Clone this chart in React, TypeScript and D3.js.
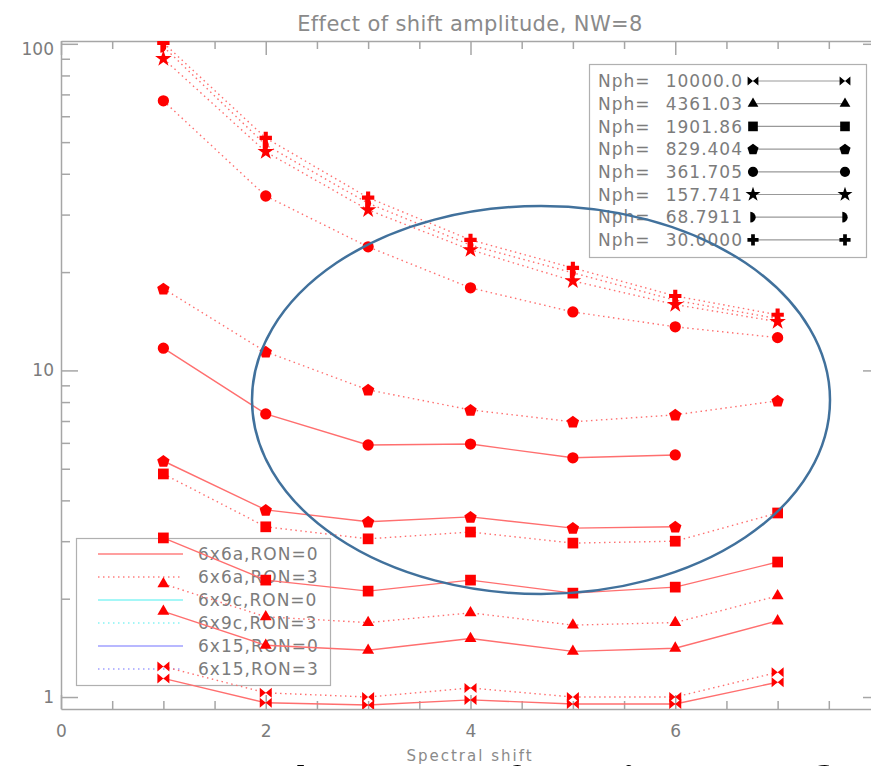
import * as d3 from "d3";
import { useEffect, useRef } from "react";

const W = 871;
const H = 766;

// x positions of the measurements
const shifts = [1, 2, 3, 4, 5, 6, 7];

// 6x6a, RON=0 (solid) and RON=3 (dotted), one pair per photon count
const bowtieRon0 = [1.14, 0.96, 0.945, 0.98, 0.952, 0.952, 1.11];
const bowtieRon3 = [1.24, 1.03, 1.0, 1.066, 1.0, 1.0, 1.19];
const triangleRon0 = [1.83, 1.44, 1.39, 1.51, 1.38, 1.41, 1.71];
const triangleRon3 = [2.22, 1.76, 1.69, 1.81, 1.66, 1.69, 2.04];
const squareRon0 = [3.07, 2.28, 2.11, 2.28, 2.08, 2.17, 2.59];
const squareRon3 = [4.82, 3.32, 3.05, 3.2, 2.96, 3.0, 3.66];
const pentagonRon0 = [5.28, 3.74, 3.44, 3.56, 3.29, 3.32];
const pentagonRon3 = [17.8, 11.4, 8.72, 7.57, 6.96, 7.31, 8.07];
const circleRon0 = [11.7, 7.36, 5.91, 5.95, 5.4, 5.51];
const circleRon3 = [66.9, 34.2, 23.9, 17.9, 15.1, 13.6, 12.6];
const starRon3 = [90, 46.7, 31.0, 23.4, 18.8, 15.9, 14.1];
const halfdiskRon3 = [98, 49, 32.5, 24.2, 19.9, 16.4, 14.4];
const plusRon3 = [100.7, 51.5, 33.8, 25.1, 20.6, 16.9, 14.8];

const nphLabels = ["10000.0", "4361.03", "1901.86", "829.404", "361.705", "157.741", "68.7911", "30.0000"];
const nphMarkers = ["bowtie", "triangle", "square", "pentagon", "circle", "star", "halfdisk", "plus"];

const configLabels = ["6x6a,RON=0", "6x6a,RON=3", "6x9c,RON=0", "6x9c,RON=3", "6x15,RON=0", "6x15,RON=3"];
const configColors = ["#ff7f7f", "#ff7f7f", "#86f4f4", "#86f4f4", "#a0a0ff", "#a0a0ff"];
const configDotted = [false, true, false, true, false, true];

const xMajorTicks = [0, 2, 4, 6, 8];
const xTickLabels = ["0", "2", "4", "6", ""];
const yMajorTicks = [1, 10, 100];

const series = [
  { marker: "bowtie", values: bowtieRon0, dotted: false },
  { marker: "bowtie", values: bowtieRon3, dotted: true },
  { marker: "triangle", values: triangleRon0, dotted: false },
  { marker: "triangle", values: triangleRon3, dotted: true },
  { marker: "square", values: squareRon0, dotted: false },
  { marker: "square", values: squareRon3, dotted: true },
  { marker: "pentagon", values: pentagonRon0, dotted: false },
  { marker: "pentagon", values: pentagonRon3, dotted: true },
  { marker: "circle", values: circleRon0, dotted: false },
  { marker: "circle", values: circleRon3, dotted: true },
  { marker: "star", values: starRon3, dotted: true },
  { marker: "halfdisk", values: halfdiskRon3, dotted: true },
  { marker: "plus", values: plusRon3, dotted: true },
];

function markerPath(name: string) {
  switch (name) {
    case "circle":
      return d3.symbol(d3.symbolCircle, 100)();
    case "square":
      return d3.symbol(d3.symbolSquare, 115)();
    case "triangle":
      return d3.symbol(d3.symbolTriangle, 62)();
    case "star":
      return d3.symbol(d3.symbolStar, 85)();
    case "plus":
      return d3.symbol(d3.symbolCross, 85)();
    case "pentagon": {
      const pts = d3.range(5).map((i) => {
        const a = -Math.PI / 2 + (i * 2 * Math.PI) / 5;
        return [6.5 * Math.cos(a), 6.5 * Math.sin(a) + 0.5];
      });
      return "M" + pts.map((p) => p.join(",")).join("L") + "Z";
    }
    case "halfdisk":
      return "M-3,-6A6,6 0 0,1 -3,6Z";
    case "bowtie":
      return "M-6,-5L0,0L-6,5ZM6,-5L0,0L6,5Z";
    default:
      return "";
  }
}

export default function App() {
  const ref = useRef<SVGSVGElement>(null);

  useEffect(() => {
    const svg = d3.select(ref.current);
    svg.selectAll("*").remove();

    const margin = { top: 41, right: -9, bottom: 57, left: 61 };
    const x = d3.scaleLinear().domain([0, 8]).range([margin.left, W - margin.right]);
    const y = d3.scaleLog().domain([0.919, 102]).range([H - margin.bottom, margin.top]);
    const [x0, x1] = x.range();
    const [y0, y1] = y.range();

    const axisColor = "#a6a6a6";
    const textColor = "#7c7c7c";
    const font = "DejaVu Sans";

    svg.append("rect").attr("width", W).attr("height", H).attr("fill", "#fff");

    // Title
    svg
      .append("text")
      .attr("x", 470)
      .attr("y", 31)
      .attr("text-anchor", "middle")
      .attr("font-family", font)
      .attr("font-size", 21)
      .attr("letter-spacing", 0.4)
      .attr("fill", "#8a8a8a")
      .text("Effect of shift amplitude, NW=8");

    // Axes
    const styleAxis = (g) => {
      g.selectAll("path,line").attr("stroke", axisColor).attr("stroke-width", 1.5);
      g.selectAll("text").attr("font-family", font).attr("font-size", 17).attr("fill", textColor);
    };
    const xMinor = d3.range(0, 8.01, 0.5).filter((d) => d % 2 !== 0);
    const yMinor = [2, 3, 4, 5, 6, 7, 8, 9, 20, 30, 40, 50, 60, 70, 80, 90];

    svg
      .append("g")
      .attr("transform", `translate(0,${y0})`)
      .call(
        d3
          .axisBottom(x)
          .tickValues(xMajorTicks)
          .tickSize(-14)
          .tickSizeOuter(0)
          .tickPadding(16)
          .tickFormat((d, i) => xTickLabels[i])
      )
      .call(styleAxis);
    svg
      .append("g")
      .attr("transform", `translate(0,${y0})`)
      .call(d3.axisBottom(x).tickValues(xMinor).tickSize(-8).tickFormat(() => ""))
      .call((g) => g.select(".domain").remove())
      .call(styleAxis);
    svg
      .append("g")
      .attr("transform", `translate(0,${y1})`)
      .call(d3.axisTop(x).tickValues(xMajorTicks).tickSize(-14).tickSizeOuter(0).tickFormat(() => ""))
      .call(styleAxis);
    svg
      .append("g")
      .attr("transform", `translate(0,${y1})`)
      .call(d3.axisTop(x).tickValues(xMinor).tickSize(-8).tickFormat(() => ""))
      .call((g) => g.select(".domain").remove())
      .call(styleAxis);

    const gy = svg
      .append("g")
      .attr("transform", `translate(${x0},0)`)
      .call(d3.axisLeft(y).tickValues(yMajorTicks).tickSize(-17).tickSizeOuter(0).tickPadding(7).tickFormat(d3.format("d")))
      .call(styleAxis);
    gy.selectAll("text").filter((d) => d === 100).attr("dy", "0.62em");
    svg
      .append("g")
      .attr("transform", `translate(${x0},0)`)
      .call(d3.axisLeft(y).tickValues(yMinor).tickSize(-9).tickFormat(() => ""))
      .call((g) => g.select(".domain").remove())
      .call(styleAxis);
    svg
      .append("g")
      .attr("transform", `translate(${x1},0)`)
      .call(d3.axisRight(y).tickValues(yMajorTicks).tickSize(-17).tickSizeOuter(0).tickFormat(() => ""))
      .call(styleAxis);
    svg
      .append("g")
      .attr("transform", `translate(${x1},0)`)
      .call(d3.axisRight(y).tickValues(yMinor).tickSize(-9).tickFormat(() => ""))
      .call((g) => g.select(".domain").remove())
      .call(styleAxis);

    // x-axis title
    svg
      .append("text")
      .attr("x", 470)
      .attr("y", 761)
      .attr("text-anchor", "middle")
      .attr("font-family", font)
      .attr("font-size", 15)
      .attr("letter-spacing", 2)
      .attr("fill", "#8a8a8a")
      .text("Spectral shift");

    // Nph legend (top right)
    const nphLeg = svg.append("g");
    nphLeg
      .append("rect")
      .attr("x", 589.5)
      .attr("y", 64.5)
      .attr("width", 277)
      .attr("height", 193)
      .attr("fill", "#fff")
      .attr("stroke", "#b0b0b0")
      .attr("stroke-width", 1.2);
    nphLabels.forEach((lab, i) => {
      const ry = 81 + i * 22.7;
      nphLeg
        .append("text")
        .attr("x", 598)
        .attr("y", ry)
        .attr("dy", "0.36em")
        .attr("font-family", font)
        .attr("font-size", 17)
        .attr("letter-spacing", 1)
        .attr("fill", textColor)
        .text("Nph=");
      nphLeg
        .append("text")
        .attr("x", 743)
        .attr("y", ry)
        .attr("dy", "0.36em")
        .attr("text-anchor", "end")
        .attr("font-family", font)
        .attr("font-size", 17)
        .attr("letter-spacing", 1)
        .attr("fill", textColor)
        .text(lab);
      nphLeg
        .append("line")
        .attr("x1", 753)
        .attr("x2", 845)
        .attr("y1", ry)
        .attr("y2", ry)
        .attr("stroke", "#999")
        .attr("stroke-width", 1.2);
      [753, 845].forEach((mx) => {
        nphLeg
          .append("path")
          .attr("d", markerPath(nphMarkers[i]))
          .attr("transform", `translate(${mx},${ry}) scale(0.9)`)
          .attr("fill", "#000");
      });
    });

    // Configuration legend (bottom left)
    const cfgLeg = svg.append("g");
    cfgLeg
      .append("rect")
      .attr("x", 76.5)
      .attr("y", 538.5)
      .attr("width", 254)
      .attr("height", 147)
      .attr("fill", "none")
      .attr("stroke", "#b0b0b0")
      .attr("stroke-width", 1.2);
    configLabels.forEach((lab, i) => {
      const ry = 554 + i * 23;
      cfgLeg
        .append("line")
        .attr("x1", 98)
        .attr("x2", 183)
        .attr("y1", ry)
        .attr("y2", ry)
        .attr("stroke", configColors[i])
        .attr("stroke-width", 1.3)
        .attr("stroke-dasharray", configDotted[i] ? "1.5,3.5" : null);
      cfgLeg
        .append("text")
        .attr("x", 198)
        .attr("y", ry)
        .attr("dy", "0.36em")
        .attr("font-family", font)
        .attr("font-size", 17)
        .attr("letter-spacing", 1)
        .attr("fill", textColor)
        .text(lab);
    });

    // Data
    svg
      .append("clipPath")
      .attr("id", "plot-clip")
      .append("rect")
      .attr("x", x0)
      .attr("y", y1)
      .attr("width", x1 - x0)
      .attr("height", y0 - y1);
    const plot = svg.append("g").attr("clip-path", "url(#plot-clip)");

    const line = d3
      .line<number>()
      .x((d, i) => x(shifts[i]))
      .y((d) => y(d));

    series.forEach((s) => {
      plot
        .append("path")
        .datum(s.values)
        .attr("fill", "none")
        .attr("stroke", "#ff6f6f")
        .attr("stroke-width", 1.4)
        .attr("stroke-dasharray", s.dotted ? "1.5,3.5" : null)
        .attr("d", line);
    });
    series.forEach((s) => {
      plot
        .selectAll(null)
        .data(s.values)
        .enter()
        .append("path")
        .attr("d", markerPath(s.marker))
        .attr("transform", (d, i) => `translate(${x(shifts[i])},${y(d)})`)
        .attr("fill", "#ff0000");
    });

    // Slide annotation
    svg
      .append("ellipse")
      .attr("cx", 541)
      .attr("cy", 400)
      .attr("rx", 289)
      .attr("ry", 194)
      .attr("fill", "none")
      .attr("stroke", "#41719c")
      .attr("stroke-width", 2.5);

    // Big slide caption, only its ascenders reach into the frame
    const big = svg
      .append("text")
      .attr("y", 805)
      .attr("font-family", "Lato, 'Open Sans', sans-serif")
      .attr("font-weight", 700)
      .attr("font-size", 53)
      .attr("fill", "#000");
    [
      ["large", 294],
      ["effect", 457],
      ["in", 622],
      ["fine", 806],
    ].forEach(([w, wx]) => {
      big.append("tspan").attr("x", wx).text(w);
    });
  }, []);

  return (
    <svg
      ref={ref}
      width={W}
      height={H}
      style={{ position: "absolute", left: 0, top: 0, display: "block" }}
    />
  );
}
